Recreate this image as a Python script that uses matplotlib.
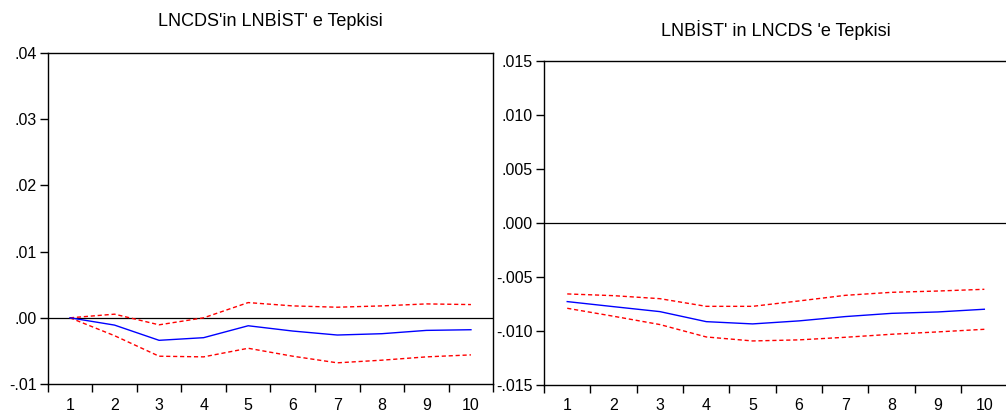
import numpy as np
import matplotlib.pyplot as plt
from matplotlib.ticker import FixedLocator

periods = np.arange(1, 11)

# LNCDS'in LNBIST' e Tepkisi
left_resp = [0.0, -0.0011, -0.0034, -0.0030, -0.0012, -0.0020, -0.0026, -0.0024, -0.0019, -0.0018]
left_up = [0.0, 0.00055, -0.00106, 0.0, 0.0023, 0.0018, 0.0016, 0.0018, 0.0021, 0.0020]
left_lo = [0.0, -0.0027, -0.0058, -0.0059, -0.0046, -0.0058, -0.0068, -0.0064, -0.0059, -0.0056]

# LNBIST' in LNCDS 'e Tepkisi
right_resp = [-0.00731, -0.00778, -0.00824, -0.00917, -0.00938, -0.0091, -0.0087, -0.0084, -0.00827, -0.00802]
right_up = [-0.0066, -0.00676, -0.00704, -0.00775, -0.00775, -0.00725, -0.00673, -0.00645, -0.00633, -0.00617]
right_lo = [-0.00793, -0.00867, -0.00944, -0.01059, -0.01096, -0.01086, -0.01062, -0.01034, -0.01012, -0.00988]

left_ticks = [-0.01, 0.0, 0.01, 0.02, 0.03, 0.04]
left_labels = ['-.01', '.00', '.01', '.02', '.03', '.04']
right_ticks = [-0.015, -0.010, -0.005, 0.0, 0.005, 0.010, 0.015]
right_labels = ['-.015', '-.010', '-.005', '.000', '.005', '.010', '.015']

plt.rcParams['font.family'] = ['Liberation Sans', 'DejaVu Sans']

fig = plt.figure(figsize=(10.06, 4.19), dpi=100)
ax1 = fig.add_axes([0.0474, 0.0835, 0.4429, 0.7900])
ax2 = fig.add_axes([0.5408, 0.0823, 0.4607, 0.7721])


def draw(ax, resp, up, lo, ticks, labels, title, title_y):
    ax.axhline(0, color='black', lw=0.9, zorder=1)
    ax.plot(periods, up, color='red', lw=1, ls=(0, (3, 2)))
    ax.plot(periods, lo, color='red', lw=1, ls=(0, (3, 2)))
    ax.plot(periods, resp, color='blue', lw=1)
    ax.set_xlim(0.5, 10.5)
    ax.set_ylim(ticks[0], ticks[-1])
    ax.set_yticks(ticks)
    ax.set_yticklabels(labels, fontsize=11.5)
    ax.set_xticks(periods)
    ax.set_xticklabels([str(p) for p in periods], fontsize=11.5)
    ax.xaxis.set_minor_locator(FixedLocator(np.arange(0.5, 11, 1)))
    ax.tick_params(axis='x', which='major', length=0, pad=10)
    ax.tick_params(axis='x', which='minor', length=6, direction='out', width=1)
    ax.tick_params(axis='y', length=6, direction='out', width=1, pad=2)
    for s in ax.spines.values():
        s.set_linewidth(1)
        s.set_color('black')
    ax.set_title(title, fontsize=13, family=['Liberation Sans Narrow', 'Liberation Sans'],
                 y=title_y)


draw(ax1, left_resp, left_up, left_lo, left_ticks, left_labels,
     "LNCDS'in LNBİST' e Tepkisi", 1.055)
draw(ax2, right_resp, right_up, right_lo, right_ticks, right_labels,
     "LNBİST' in LNCDS 'e Tepkisi", 1.05)

plt.savefig('out.png', dpi=100)
